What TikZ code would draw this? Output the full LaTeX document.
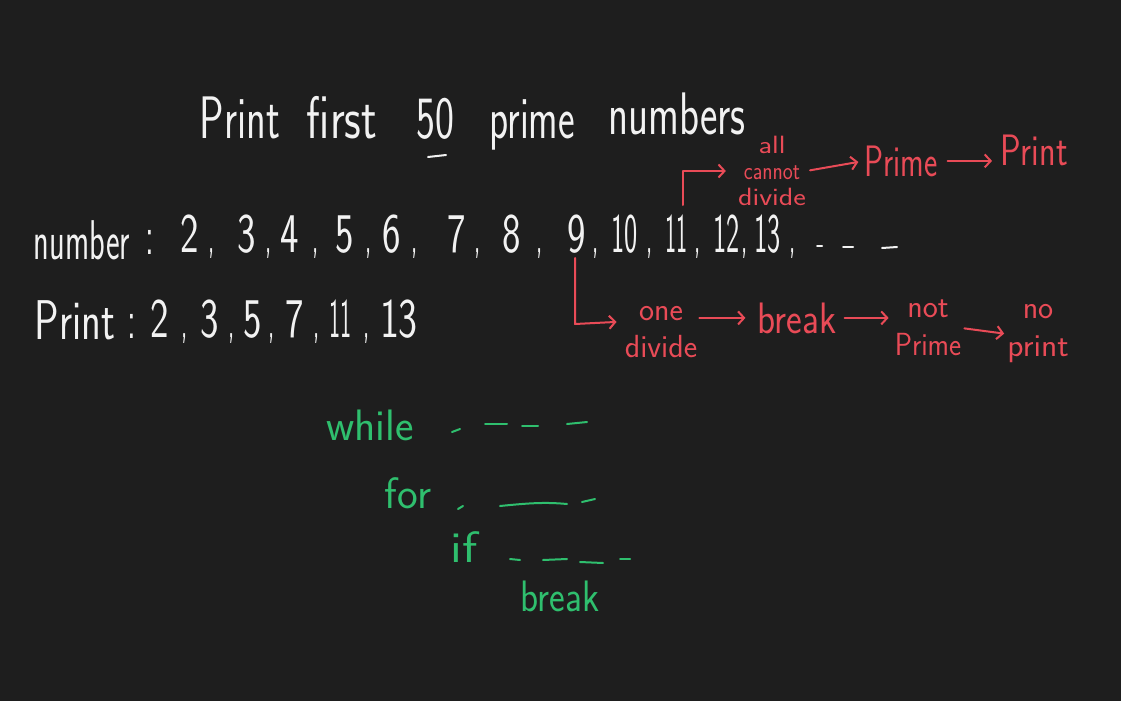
\documentclass[tikz,border=0pt]{standalone}
\usepackage{fontspec}
\usepackage{graphicx}
\usetikzlibrary{arrows.meta}
\definecolor{bg}{HTML}{1E1E1E}
\definecolor{ink}{HTML}{F2F2F2}
\definecolor{rd}{HTML}{E94B57}
\definecolor{gn}{HTML}{2FBF6E}
\newcommand{\hfs}[2]{\fontsize{#1}{#2}\selectfont\sffamily}
\newcommand{\sx}[2]{\scalebox{#1}[1]{#2}}
\newcommand{\cm}{{\fontsize{48}{48}\selectfont\sx{0.5}{,}}}
\begin{document}
\begin{tikzpicture}[x=1pt,y=-1pt,
  txt/.style={inner sep=0pt, anchor=base},
  ttl/.style={txt, text=ink, font=\hfs{60}{60}},
  numtxt/.style={txt, text=ink, font=\hfs{56}{56}},
  item/.style={numtxt, anchor=base west},
  rtxt/.style={txt, text=rd, font=\hfs{44}{44}},
  rmulti/.style={inner sep=0pt, anchor=center, align=center, text=rd},
  gtxt/.style={txt, text=gn, font=\hfs{44}{44}},
  stroke/.style={line width=2pt, line cap=round, line join=round},
  arr/.style={stroke, draw=rd, -{Straight Barb[length=6pt,width=13pt,line width=2pt]}},
  wdash/.style={stroke, draw=ink},
  gdash/.style={stroke, draw=gn}]
\fill[bg] (0,0) rectangle (1121,701);
\useasboundingbox (0,0) rectangle (1121,701);

% title
\node[ttl] (tPrint) at (240,138) {\sx{0.68}{Print}};
\node[ttl] (tFirst) at (342,138) {\sx{0.77}{first}};
\node[ttl] (tFifty) at (435,138) {\sx{0.67}{50}};
\node[ttl] (tPrime) at (532,138) {\sx{0.66}{prime}};
\node[ttl] (tNumbers) at (677,134) {\sx{0.69}{numbers}};
\draw[wdash] (428,157) -- (446,155);

% number line
\node[numtxt] (numWord) at (82,259) {\sx{0.58}{number}};
\node[numtxt] (numColon) at (150,254) {\sx{0.6}{:}};
\foreach \x/\lbl/\sc/\g [count=\i] in {180.2/2/0.7/9.9, 237.2/3/0.7/9.9, 280.2/4/0.7/13.9, 335.2/5/0.7/11.9, 382.2/6/0.7/10.9, 447.2/7/0.7/8.9, 502.2/8/0.7/15.9, 567.2/9/0.7/6.9, 611/10/0.5/8.7, 665.2/11/0.42/6.9, 713/12/0.5/1.7, 754/13/0.5/8.7}
  \node[item] (n\i) at (\x,252) {\sx{\sc}{\lbl}\hspace{\g pt}\cm};
\draw[wdash] (817,246) -- (822,246);
\draw[wdash] (843,247) -- (853,247);
\draw[wdash] (882,248) -- (897,247);

% print line
\node[numtxt] (prWord) at (75,339) {\sx{0.73}{Print}};
\node[numtxt] (prColon) at (132,338) {\sx{0.6}{:}};
\foreach \x/\lbl/\sc/\g [count=\i] in {150.2/2/0.7/12.9, 200.2/3/0.7/9.9, 243.2/5/0.7/6.9, 285.2/7/0.7/9.9, 329.2/11/0.42/11.9}
  \node[item] (p\i) at (\x,337) {\sx{\sc}{\lbl}\hspace{\g pt}\cm};
\node[item] (p6) at (379.8,337) {\sx{0.72}{13}};

% red upper chain
\node[rmulti, font=\hfs{25}{26}] (allc) at (772,171) {\sx{1.2}{all}\\\sx{0.85}{cannot}\\\sx{1.2}{divide}};
\node[rtxt] (rPrime) at (901,176) {\sx{0.72}{Prime}};
\node[rtxt] (rPrint) at (1034,165) {\sx{0.78}{Print}};
\coordinate (b11) at (683,205);
\draw[arr, shorten >=12pt] (b11) |- (allc.west);
\draw[arr, shorten <=4pt, shorten >=6pt] (allc.east) -- (rPrime.west);
\draw[arr, shorten <=10pt, shorten >=8pt] (rPrime.east) -- (rPrime.east -| rPrint.west);

% red lower chain
\node[rmulti, font=\hfs{32}{37}] (oneDiv) at (661,332) {one\\divide};
\node[rtxt] (rBreak) at (797,333) {\sx{0.85}{break}};
\node[rmulti, font=\hfs{32}{38}] (notPrime) at (928,328) {not\\\sx{0.9}{Prime}};
\node[rmulti, font=\hfs{32}{38}] (noPrint) at (1038,334) {no\\\sx{1.05}{print}};
\coordinate (b9) at (575,258);
\draw[arr] (b9) -- ++(0,66) -- ([xshift=-8pt,yshift=-4pt]oneDiv.west |- rBreak.west);
\draw[arr, shorten <=2pt, shorten >=12pt] (oneDiv.east |- rBreak.west) -- (rBreak.west);
\draw[arr, shorten <=8pt, shorten >=6pt] (rBreak.east) -- (notPrime.west |- rBreak.east);
\draw[arr, shorten <=3pt, shorten >=3pt] (notPrime.east) -- (noPrint.west);

% green code sketch
\node[gtxt] (gWhile) at (370,440) {while};
\node[gtxt] (gFor) at (408,508) {for};
\node[gtxt] (gIf) at (464,562) {\sx{1.2}{if}};
\node[gtxt] (gBreak) at (560,611) {\sx{0.85}{break}};
\draw[gdash] (452,432) -- (460,429);
\draw[gdash] (485,424) -- (507,424);
\draw[gdash] (522,426) -- (538,426);
\draw[gdash] (567,424) -- (587,422);
\draw[gdash] (458,509) -- (463,506);
\draw[gdash] (500,506) .. controls (530,503) and (545,502) .. (567,504);
\draw[gdash] (582,502) -- (595,499);
\draw[gdash] (510,559) -- (520,560);
\draw[gdash] (543,560) -- (567,559);
\draw[gdash] (580,562) -- (603,563);
\draw[gdash] (620,559) -- (630,559);
\end{tikzpicture}
\end{document}
